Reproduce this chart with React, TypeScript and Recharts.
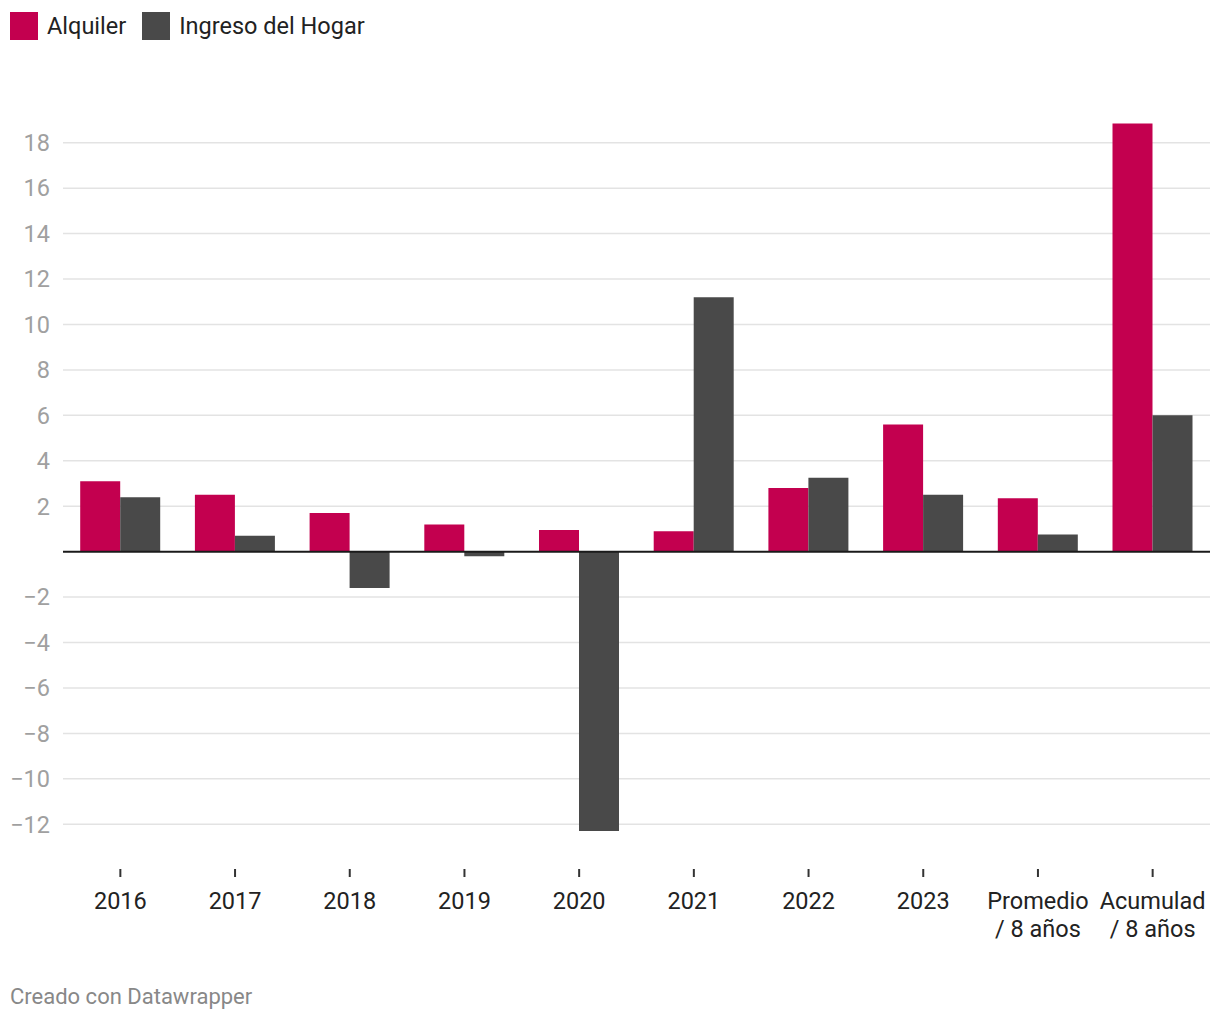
import React from 'react';
import { BarChart, Bar, XAxis, YAxis, CartesianGrid, ReferenceLine } from 'recharts';

const categories = ['2016', '2017', '2018', '2019', '2020', '2021', '2022', '2023', 'Promedio\n/ 8 años', 'Acumulad\n/ 8 años'];
const alquiler = [3.1, 2.5, 1.7, 1.2, 0.95, 0.9, 2.8, 5.6, 2.35, 18.85];
const ingreso = [2.4, 0.7, -1.6, -0.2, -12.3, 11.2, 3.25, 2.5, 0.75, 6.0];
const yTicks = [-12, -10, -8, -6, -4, -2, 2, 4, 6, 8, 10, 12, 14, 16, 18];

const PINK = '#c3004f';
const GREY = '#494949';
const FONT = 'Roboto, sans-serif';

const data = categories.map((name, i) => ({ name, alquiler: alquiler[i], ingreso: ingreso[i] }));

const XTick = (props: any) => {
  const { x, y, payload } = props;
  const lines = String(payload.value).split('\n');
  return (
    <g>
      <line x1={x} x2={x} y1={y + 22} y2={y + 30} stroke="#333" strokeWidth={2} />
      {lines.map((l, i) => (
        <text key={i} x={x} y={y + 62 + i * 28} textAnchor="middle" fill="#222" fontSize={23.5} fontFamily={FONT}>
          {l}
        </text>
      ))}
    </g>
  );
};

const App: React.FC = () => {
  return (
    <div style={{ position: 'absolute', left: 0, top: 0, width: 1220, height: 1020, background: '#fff', fontFamily: FONT }}>
      <div style={{ position: 'absolute', left: 10, top: 12, display: 'flex', alignItems: 'center', fontSize: 23.5, color: '#222', lineHeight: '28px' }}>
        <span style={{ width: 28, height: 28, background: PINK, display: 'inline-block', marginRight: 9 }} />
        <span style={{ marginRight: 16 }}>Alquiler</span>
        <span style={{ width: 28, height: 28, background: GREY, display: 'inline-block', marginRight: 9 }} />
        <span>Ingreso del Hogar</span>
      </div>
      <div style={{ position: 'absolute', left: 0, top: 0 }}>
        <BarChart
          width={1220}
          height={1020}
          data={data}
          margin={{ top: 120, right: 10, bottom: 143, left: 0 }}
          barCategoryGap="15%"
          barGap={0}
        >
          <CartesianGrid horizontal vertical={false} horizontalValues={yTicks} stroke="#e3e3e3" strokeWidth={1.5} />
          <YAxis
            width={63}
            domain={[-13, 19]}
            ticks={yTicks}
            interval={0}
            axisLine={false}
            tickLine={false}
            tickSize={0}
            tickMargin={13}
            tick={{ fill: '#a0a0a0', fontSize: 23.5, fontFamily: FONT }}
            tickFormatter={(v: number) => String(v).replace('-', '\u2212')}
          />
          <XAxis
            dataKey="name"
            height={30}
            axisLine={false}
            tickLine={false}
            tickSize={0}
            tickMargin={0}
            interval={0}
            tick={<XTick />}
          />
          <Bar dataKey="alquiler" fill={PINK} isAnimationActive={false} />
          <Bar dataKey="ingreso" fill={GREY} isAnimationActive={false} />
          <ReferenceLine y={0} stroke="#1a1a1a" strokeWidth={2} />
        </BarChart>
      </div>
      <div style={{ position: 'absolute', left: 10, top: 984, fontSize: 22, color: '#888' }}>Creado con Datawrapper</div>
    </div>
  );
};

export default App;
